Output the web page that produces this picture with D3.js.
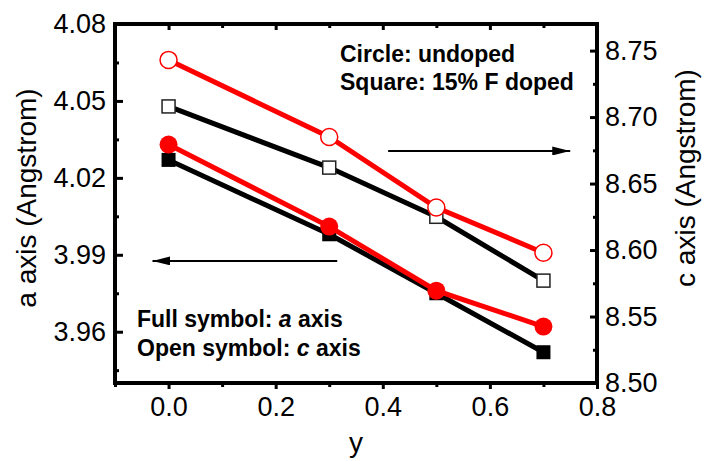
<!DOCTYPE html>
<html>
<head>
<meta charset="utf-8">
<script src="https://cdn.jsdelivr.net/npm/d3@7"></script>
<style>
  body { margin: 0; background: #fff; }
  svg { display: block; font-family: "Liberation Sans", Arial, sans-serif; }
  .tick text { font-size: 27px; fill: #000; }
  .tick line { stroke: #000; stroke-width: 3; }
  .title { font-size: 28px; }
  .note { font-size: 23px; font-weight: bold; }
</style>
</head>
<body>
<svg id="chart" width="704" height="461"></svg>
<script>
// doping level y and lattice parameters (Angstrom)
var yVals     = [0.0, 0.3, 0.5, 0.7];
var aUndoped  = [4.033, 4.001, 3.976, 3.962];
var aDoped    = [4.027, 3.998, 3.975, 3.952];
var cUndoped  = [8.743, 8.685, 8.632, 8.598];
var cDoped    = [8.708, 8.662, 8.625, 8.577];

var xTicks      = [0.0, 0.2, 0.4, 0.6, 0.8];
var xMinor      = [-0.1, 0.1, 0.3, 0.5, 0.7];
var aTicks      = [3.96, 3.99, 4.02, 4.05, 4.08];
var aMinor      = [3.945, 3.975, 4.005, 4.035, 4.065];
var cTicks      = [8.50, 8.55, 8.60, 8.65, 8.70, 8.75];
var cMinor      = [8.525, 8.575, 8.625, 8.675, 8.725];

// arrows: [x from, x to, value] -- left one points to a axis, right one to c axis
var aArrow = [0.315, -0.03, 3.9876];
var cArrow = [0.41, 0.75, 8.6745];

var svg = d3.select('#chart');
var m = {left: 115, right: 597, top: 24, bottom: 383};

var x = d3.scaleLinear().domain([-0.1, 0.8]).range([m.left, m.right]);
var ya = d3.scaleLinear().domain([3.94, 4.08]).range([m.bottom, m.top]);
var yc = d3.scaleLinear().domain([8.50, 8.77]).range([m.bottom, m.top]);

var fmt2 = d3.format('.2f'), fmt1 = d3.format('.1f');

function clean(g) { g.select('.domain').remove(); }

// major ticks with labels
svg.append('g').attr('transform', 'translate(0,' + m.bottom + ')')
  .call(d3.axisBottom(x).tickValues(xTicks).tickFormat(fmt1).tickSize(6).tickPadding(8))
  .call(clean);
svg.append('g').attr('transform', 'translate(' + m.left + ',0)')
  .call(d3.axisLeft(ya).tickValues(aTicks).tickFormat(fmt2).tickSize(-8).tickPadding(9))
  .call(clean);
svg.append('g').attr('transform', 'translate(' + m.right + ',0)')
  .call(d3.axisRight(yc).tickValues(cTicks).tickFormat(fmt2).tickSize(-7).tickPadding(8))
  .call(clean);
// top mirror ticks and all minor ticks
svg.append('g').attr('transform', 'translate(0,' + m.top + ')')
  .call(d3.axisTop(x).tickValues(xTicks).tickFormat('').tickSize(-6)).call(clean);
svg.append('g').attr('transform', 'translate(0,' + m.top + ')')
  .call(d3.axisTop(x).tickValues(xMinor).tickFormat('').tickSize(-4)).call(clean);
svg.append('g').attr('transform', 'translate(0,' + m.bottom + ')')
  .call(d3.axisBottom(x).tickValues(xMinor).tickFormat('').tickSize(4)).call(clean);
svg.append('g').attr('transform', 'translate(' + m.left + ',0)')
  .call(d3.axisLeft(ya).tickValues(aMinor).tickFormat('').tickSize(-4)).call(clean);
svg.append('g').attr('transform', 'translate(' + m.right + ',0)')
  .call(d3.axisRight(yc).tickValues(cMinor).tickFormat('').tickSize(-4)).call(clean);

svg.append('rect')
  .attr('x', m.left).attr('y', m.top)
  .attr('width', m.right - m.left).attr('height', m.bottom - m.top)
  .attr('fill', 'none').attr('stroke', '#000').attr('stroke-width', 4);

// axis titles
svg.append('text').attr('class', 'title')
  .attr('transform', 'translate(36,' + 198 + ') rotate(-90)')
  .attr('text-anchor', 'middle').text('a axis (Angstrom)');
svg.append('text').attr('class', 'title')
  .attr('transform', 'translate(695,' + 178 + ') rotate(-90)')
  .attr('text-anchor', 'middle').text('c axis (Angstrom)');
svg.append('text').attr('class', 'title')
  .attr('x', (m.left + m.right) / 2).attr('y', 452)
  .attr('text-anchor', 'middle').text('y');

// series
var series = [
  {vals: cDoped,   scale: yc, colour: '#000', shape: 'square', filled: false},
  {vals: aDoped,   scale: ya, colour: '#000', shape: 'square', filled: true},
  {vals: cUndoped, scale: yc, colour: '#f00', shape: 'circle', filled: false},
  {vals: aUndoped, scale: ya, colour: '#f00', shape: 'circle', filled: true}
];

series.forEach(function(s) {
  var pts = yVals.map(function(v, i) { return [x(v), s.scale(s.vals[i])]; });
  svg.append('path')
    .attr('d', d3.line()(pts))
    .attr('fill', 'none').attr('stroke', s.colour).attr('stroke-width', 5);
  var g = svg.append('g');
  if (s.shape == 'circle') {
    g.selectAll('circle').data(pts).enter().append('circle')
      .attr('cx', function(d) { return d[0]; })
      .attr('cy', function(d) { return d[1]; })
      .attr('r', s.filled ? 9 : 8.5)
      .attr('fill', s.filled ? s.colour : '#fff')
      .attr('stroke', s.colour).attr('stroke-width', s.filled ? 0 : 1.5);
  } else {
    var h = s.filled ? 7 : 6.5;
    g.selectAll('rect').data(pts).enter().append('rect')
      .attr('x', function(d) { return d[0] - h; })
      .attr('y', function(d) { return d[1] - h; })
      .attr('width', 2 * h).attr('height', 2 * h)
      .attr('fill', s.filled ? s.colour : '#fff')
      .attr('stroke', s.filled ? 'none' : '#222').attr('stroke-width', 1.5);
  }
});

// arrows
svg.append('defs').append('marker')
  .attr('id', 'head').attr('viewBox', '0 0 10 5')
  .attr('refX', 10).attr('refY', 2.5)
  .attr('markerWidth', 9).attr('markerHeight', 4.5)
  .attr('markerUnits', 'strokeWidth').attr('orient', 'auto')
  .append('path').attr('d', 'M0,0 L10,2.5 L0,5 z').attr('fill', '#000');

[[aArrow, ya], [cArrow, yc]].forEach(function(p) {
  var a = p[0], sc = p[1];
  svg.append('line')
    .attr('x1', x(a[0])).attr('x2', x(a[1]))
    .attr('y1', sc(a[2])).attr('y2', sc(a[2]))
    .attr('stroke', '#000').attr('stroke-width', 2)
    .attr('marker-end', 'url(#head)');
});

// notes
var n1 = svg.append('text').attr('class', 'note').attr('x', 340).attr('y', 62);
n1.text('Circle: undoped');
svg.append('text').attr('class', 'note').attr('x', 340).attr('y', 90)
  .text('Square: 15% F doped');

var n3 = svg.append('text').attr('class', 'note').attr('x', 137).attr('y', 327);
n3.append('tspan').text('Full symbol: ');
n3.append('tspan').attr('font-style', 'italic').text('a');
n3.append('tspan').text(' axis');
var n4 = svg.append('text').attr('class', 'note').attr('x', 137).attr('y', 356);
n4.append('tspan').text('Open symbol: ');
n4.append('tspan').attr('font-style', 'italic').text('c');
n4.append('tspan').text(' axis');
</script>
</body>
</html>
